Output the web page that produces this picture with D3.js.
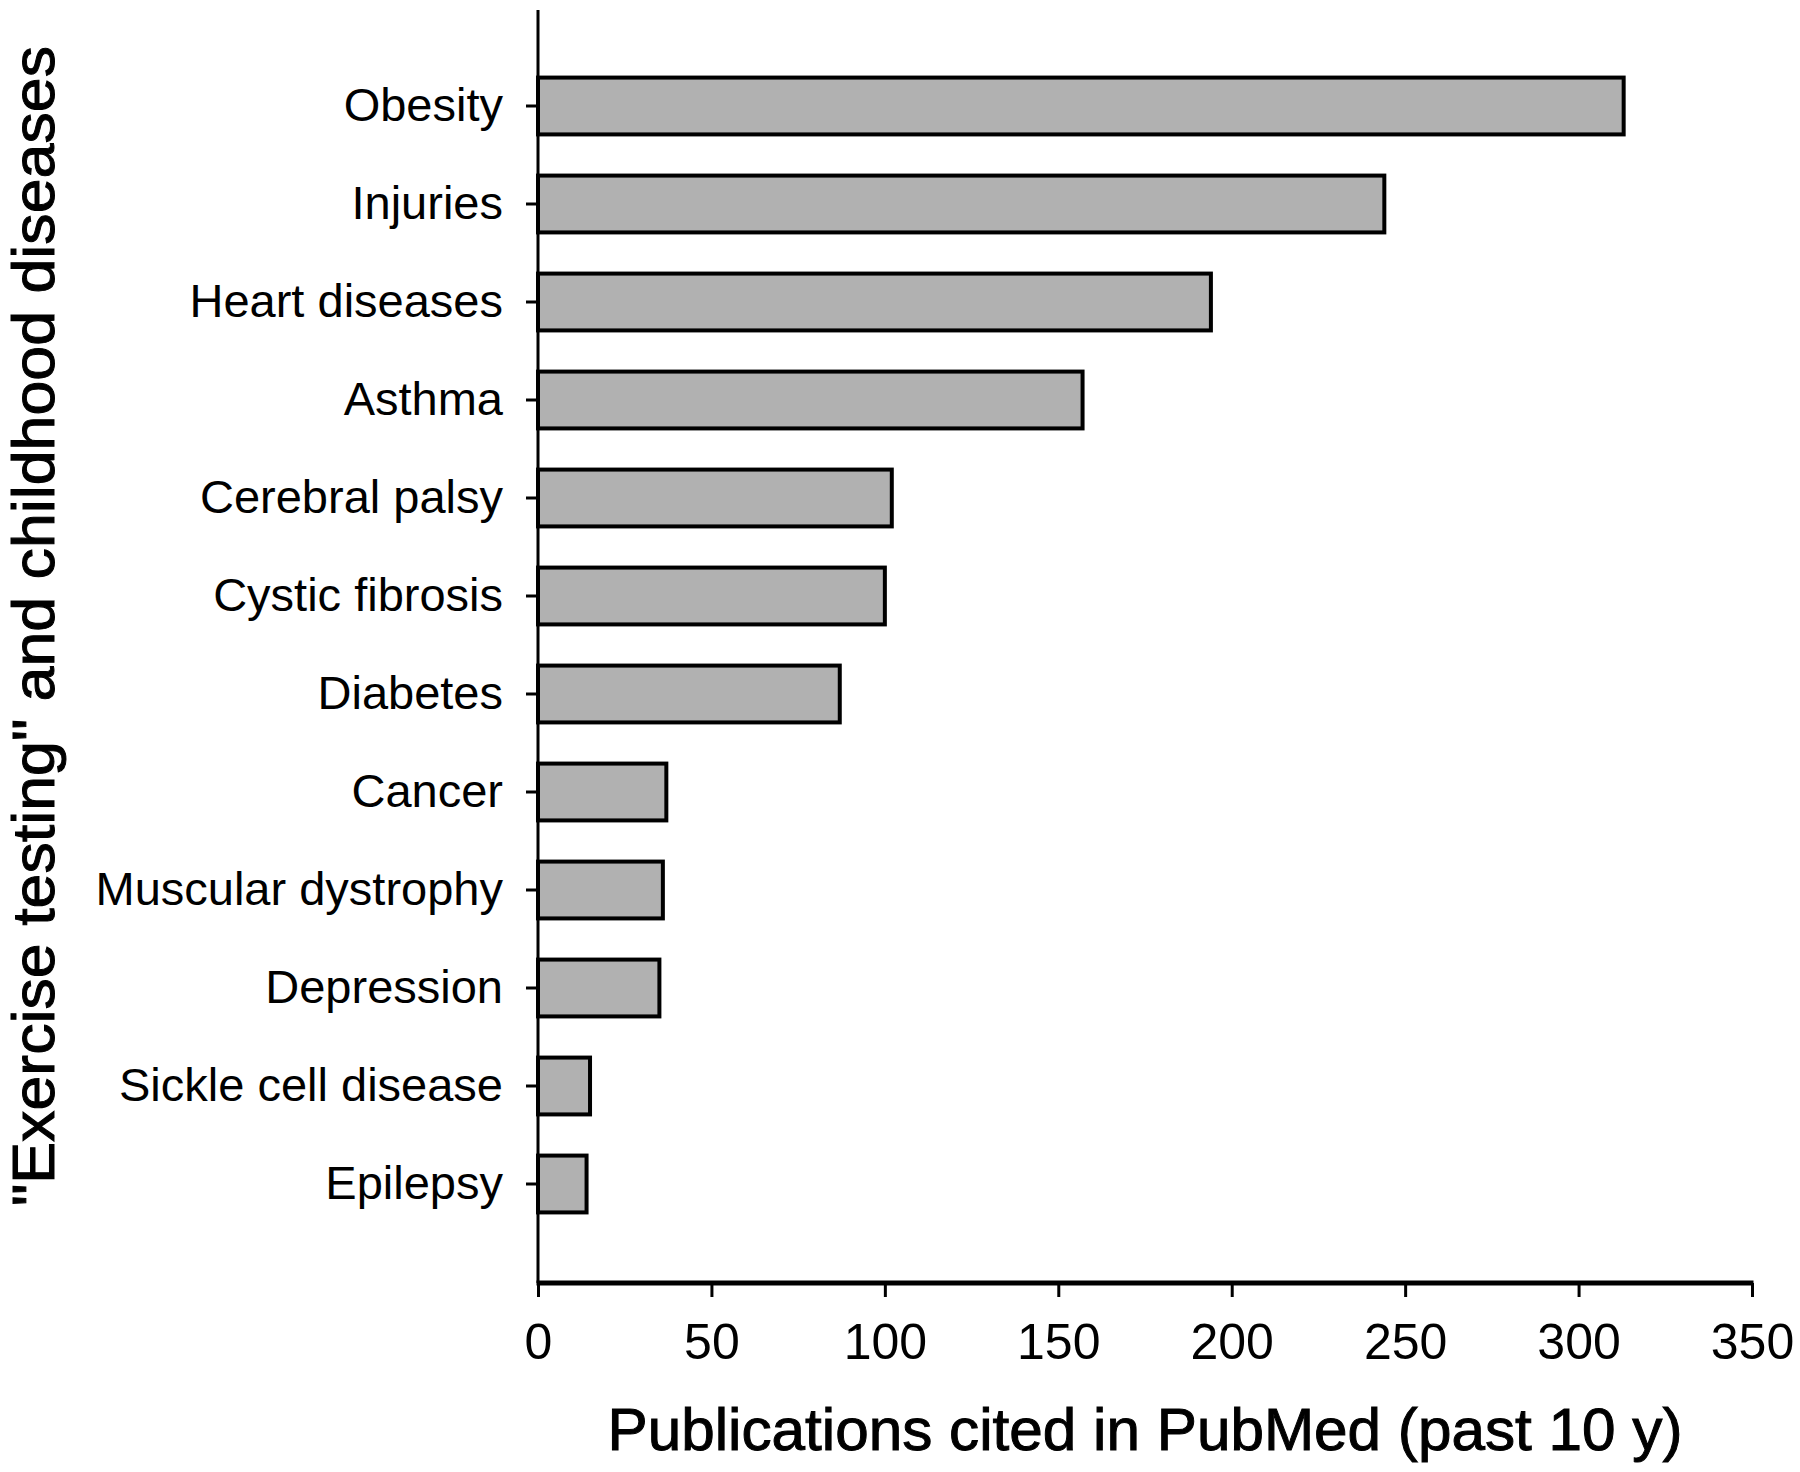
<!DOCTYPE html>
<html>
<head>
<meta charset="utf-8">
<script src="https://cdn.jsdelivr.net/npm/d3@7"></script>
<style>
  body { margin: 0; background: #fff; }
  text { font-family: "Liberation Sans", Arial, sans-serif; fill: #000; }
</style>
</head>
<body>
<div id="chart"></div>
<script>
// data
var diseases = ["Obesity", "Injuries", "Heart diseases", "Asthma", "Cerebral palsy",
  "Cystic fibrosis", "Diabetes", "Cancer", "Muscular dystrophy", "Depression",
  "Sickle cell disease", "Epilepsy"];
var publications = [313, 244, 194, 157, 102, 100, 87, 37, 36, 35, 15, 14];
var xTicks = [0, 50, 100, 150, 200, 250, 300, 350];

var xTitle = "Publications cited in PubMed (past 10 y)",
    yTitle = "\"Exercise testing\" and childhood diseases";

var width = 1800,
    height = 1472;

var x = d3.scaleLinear().domain([0, 350]).range([538, 1752]);
var y = d3.scaleBand().domain(diseases).range([57, 1233])
    .paddingInner(0.42).paddingOuter(0.21);

var axisTop = 10, axisBottom = 1283;

var svg = d3.select('#chart')
  .append('svg')
    .attr('width', width)
    .attr('height', height);

var rows = diseases.map(function(d, i) { return {name: d, value: publications[i]}; });

//bars
svg.selectAll('.bar')
  .data(rows).enter()
  .append('rect')
    .attr('class', 'bar')
    .attr('x', x(0))
    .attr('y', function(d) { return y(d.name); })
    .attr('width', function(d) { return x(d.value) - x(0); })
    .attr('height', y.bandwidth())
    .attr('fill', '#b1b1b1')
    .attr('stroke', '#000')
    .attr('stroke-width', 4);

//y axis
var yAxis = svg.append('g')
  .attr('transform', 'translate(' + x(0) + ',0)')
  .call(d3.axisLeft(y).tickSize(12).tickPadding(23));
yAxis.select('.domain').remove();
yAxis.selectAll('line').attr('stroke', '#000').attr('stroke-width', 3);
yAxis.selectAll('text')
  .attr('font-size', 47)
  .attr('font-family', '"Liberation Sans", Arial, sans-serif');

svg.append('line')
  .attr('x1', x(0)).attr('x2', x(0))
  .attr('y1', axisTop).attr('y2', axisBottom)
  .attr('stroke', '#000')
  .attr('stroke-width', 3);

//x axis
var xAxis = svg.append('g')
  .attr('transform', 'translate(0,' + axisBottom + ')')
  .call(d3.axisBottom(x).tickValues(xTicks).tickSize(14).tickPadding(26));
xAxis.select('.domain').remove();
xAxis.selectAll('line').attr('stroke', '#000').attr('stroke-width', 3);
xAxis.selectAll('text')
  .attr('font-size', 50)
  .attr('font-family', '"Liberation Sans", Arial, sans-serif');

svg.append('line')
  .attr('x1', x(0) - 1.5).attr('x2', x(350) + 1.5)
  .attr('y1', axisBottom).attr('y2', axisBottom)
  .attr('stroke', '#000')
  .attr('stroke-width', 5);

//axis titles (slightly heavier than the tick labels)
svg.append('text')
  .attr('x', (x(0) + x(350)) / 2)
  .attr('y', 1450)
  .attr('text-anchor', 'middle')
  .attr('font-size', 60)
  .attr('stroke', '#000')
  .attr('stroke-width', 1)
  .attr('textLength', 1075)
  .attr('lengthAdjust', 'spacingAndGlyphs')
  .text(xTitle);

svg.append('text')
  .attr('transform', 'translate(54,' + 626 + ') rotate(-90)')
  .attr('text-anchor', 'middle')
  .attr('font-size', 60)
  .attr('stroke', '#000')
  .attr('stroke-width', 1)
  .attr('textLength', 1160)
  .attr('lengthAdjust', 'spacingAndGlyphs')
  .text(yTitle);
</script>
</body>
</html>
